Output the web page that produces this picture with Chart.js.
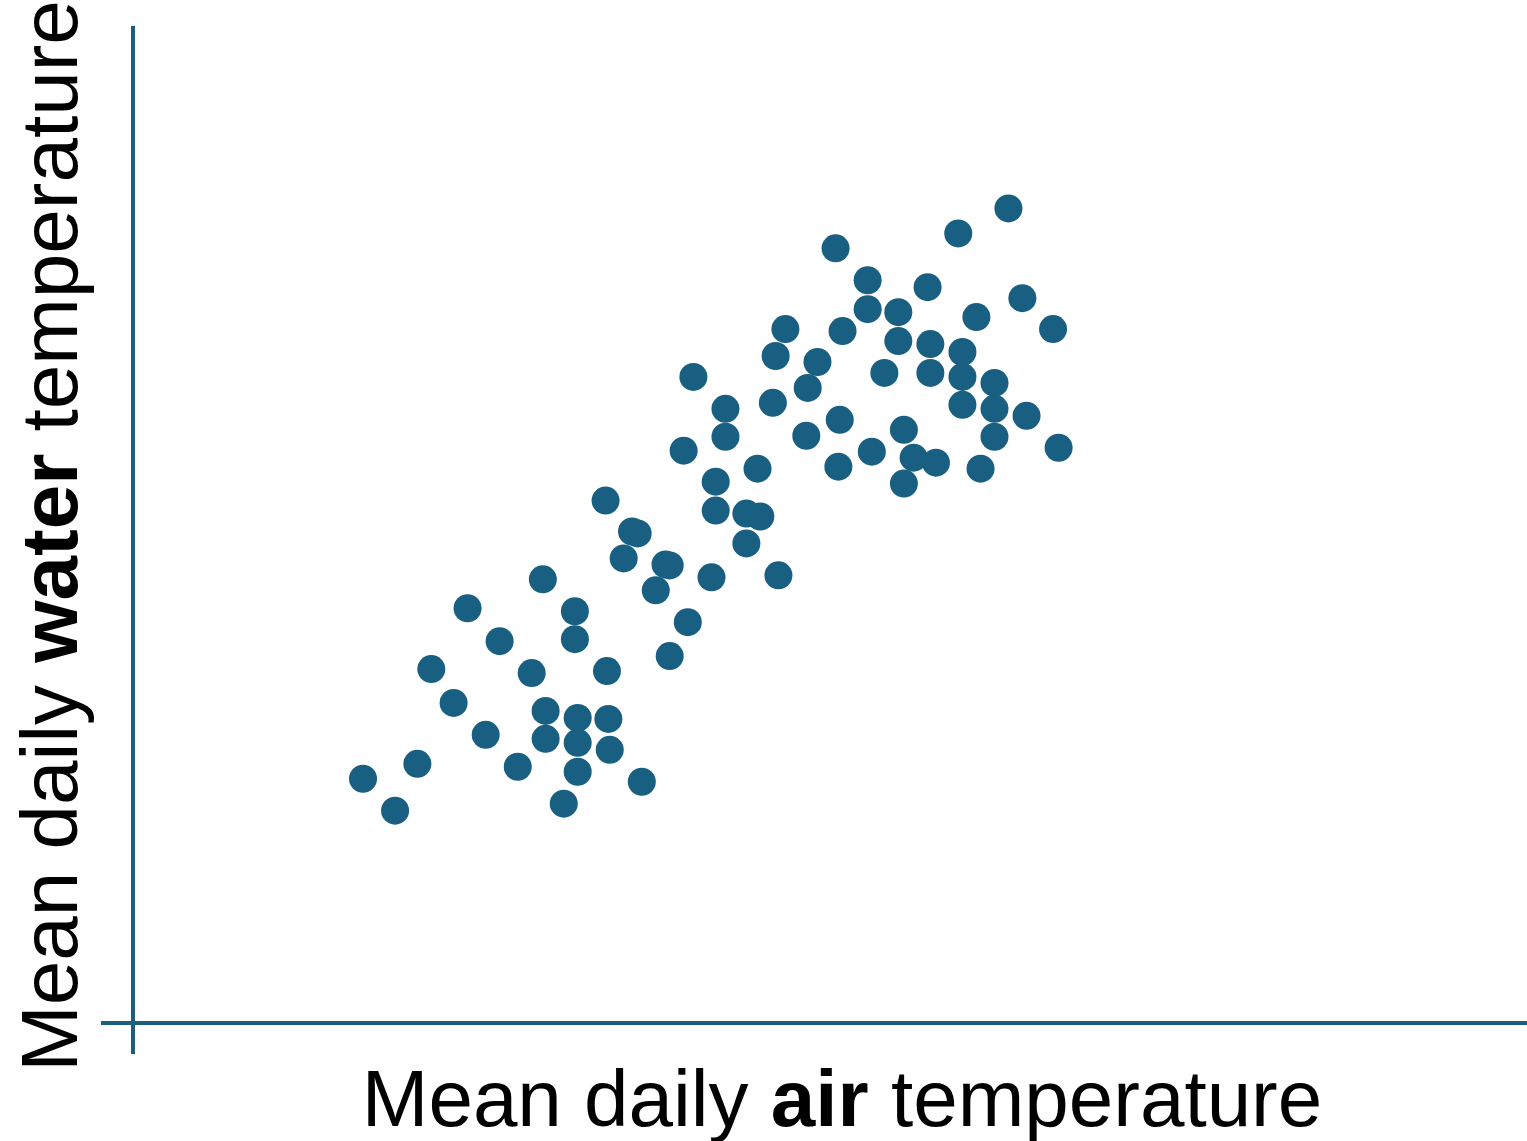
<!DOCTYPE html>
<html lang="en">
<head>
    <meta charset="UTF-8">
    <title>Air vs water temperature</title>
    <script src="https://cdn.jsdelivr.net/npm/chart.js"></script>
    <style>
        html, body { margin: 0; padding: 0; background: #fff; overflow: hidden; }
        #scatter { display: block; position: absolute; left: 0; top: 0; }
    </style>
</head>
<body>
    <canvas id="scatter" width="1527" height="1141"></canvas>

    <script>
        // mean daily air temperature (x) and water temperature (y), arbitrary units 0-100
        const airTemp = [
            16.5, 18.8, 20.4, 21.4, 23.0, 24.0, 25.3, 26.3, 27.6, 28.6,
            29.4, 29.6, 29.6, 30.9, 31.7, 31.7, 31.9, 31.9, 31.9, 33.9,
            34.0, 34.1, 34.2, 36.5, 35.2, 35.8, 36.2, 37.5, 38.2, 38.5,
            38.5, 39.8, 39.5, 40.2, 41.5, 41.8, 41.8, 42.5, 42.5, 44.0,
            44.0, 44.8, 45.0, 46.3, 45.9, 46.1, 46.8, 48.3, 48.4, 49.1,
            50.4, 50.6, 50.7, 50.9, 52.7, 52.7, 53.0, 53.9, 54.9, 54.9,
            55.3, 55.3, 56.0, 57.0, 57.2, 57.2, 57.6, 59.2, 59.5, 59.5,
            59.5, 60.5, 60.8, 61.8, 61.8, 61.8, 62.8, 63.8, 64.1, 66.0,
            66.4
        ];
        const waterTemp = [
            24.5, 21.3, 26.0, 35.5, 32.1, 41.6, 28.9, 38.3, 25.7, 35.1,
            44.5, 31.3, 28.5, 22.0, 41.3, 38.5, 30.6, 28.1, 25.2, 52.4,
            35.3, 30.5, 27.4, 24.2, 46.6, 49.3, 49.1, 43.4, 46.0, 45.9,
            36.8, 40.2, 57.4, 64.8, 44.7, 54.3, 51.4, 61.6, 58.8, 51.1,
            48.1, 55.6, 50.8, 44.9, 62.2, 66.9, 69.6, 58.9, 63.7, 66.3,
            77.7, 55.8, 60.5, 69.4, 74.5, 71.6, 57.3, 65.2, 71.3, 68.4,
            59.5, 54.1, 56.7, 73.8, 68.1, 65.2, 56.2, 79.2, 67.3, 64.8,
            62.0, 70.8, 55.6, 64.2, 61.6, 58.8, 81.7, 72.7, 60.9, 69.6,
            57.7
        ];

        const axisColor = '#1a5e80';
        const dotColor = '#185f81';
        const font = '"Liberation Sans", Arial, sans-serif';

        // draws "normal bold normal" text centred on (cx, cy), optionally rotated
        function drawMixed(ctx, parts, cx, cy, angle) {
            ctx.save();
            ctx.translate(cx, cy);
            ctx.rotate(angle);
            ctx.fillStyle = '#000';
            ctx.textBaseline = 'alphabetic';
            ctx.textAlign = 'left';
            let total = 0;
            parts.forEach(p => {
                ctx.font = (p.bold ? 'bold ' : '') + '80px ' + font;
                p.w = ctx.measureText(p.text).width;
                total += p.w;
            });
            let x = -total / 2;
            parts.forEach(p => {
                ctx.font = (p.bold ? 'bold ' : '') + '80px ' + font;
                ctx.fillText(p.text, x, 0);
                x += p.w;
            });
            ctx.restore();
        }

        const axesAndTitles = {
            id: 'axesAndTitles',
            beforeDatasetsDraw(chart) {
                const ctx = chart.ctx;
                const a = chart.chartArea;
                const x0 = chart.scales.x.getPixelForValue(0);
                const y0 = chart.scales.y.getPixelForValue(0);
                ctx.save();
                ctx.strokeStyle = axisColor;
                ctx.lineWidth = 4;
                ctx.beginPath();
                ctx.moveTo(x0, a.top);
                ctx.lineTo(x0, y0 + 31);
                ctx.moveTo(x0 - 32, y0);
                ctx.lineTo(a.right, y0);
                ctx.stroke();
                ctx.restore();
            },
            afterDraw(chart) {
                const ctx = chart.ctx;
                drawMixed(ctx, [
                    { text: 'Mean daily ' },
                    { text: 'air', bold: true },
                    { text: ' temperature' }
                ], 842, 1126, 0);
                drawMixed(ctx, [
                    { text: 'Mean daily ' },
                    { text: 'water', bold: true },
                    { text: ' temperature' }
                ], 77, 536, -Math.PI / 2);
            }
        };

        new Chart(document.getElementById('scatter'), {
            type: 'scatter',
            data: {
                datasets: [{
                    data: airTemp.map((v, i) => ({ x: v, y: waterTemp[i] })),
                    backgroundColor: dotColor,
                    borderWidth: 0,
                    pointRadius: 14,
                    pointHoverRadius: 14
                }]
            },
            options: {
                responsive: false,
                animation: false,
                events: [],
                layout: { autoPadding: false, padding: { left: 133, right: 0, top: 26, bottom: 118 } },
                plugins: { legend: { display: false }, tooltip: { enabled: false } },
                scales: {
                    x: { type: 'linear', min: 0, max: 100, display: false },
                    y: { type: 'linear', min: 0, max: 100, display: false }
                }
            },
            plugins: [axesAndTitles]
        });
    </script>
</body>
</html>
